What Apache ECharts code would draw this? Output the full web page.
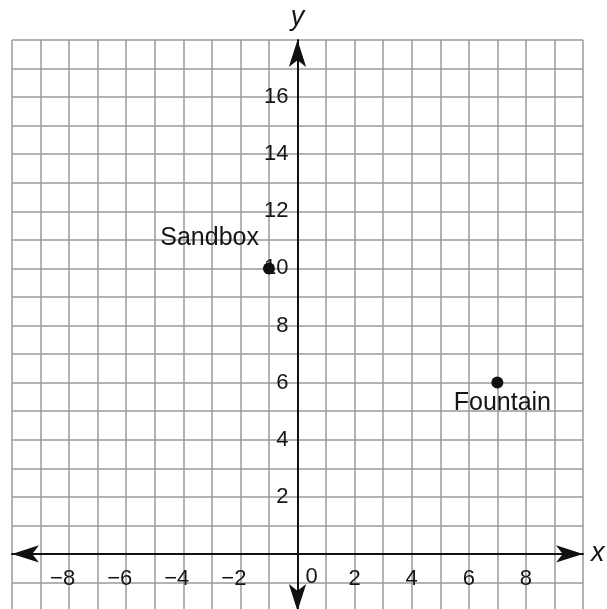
<!DOCTYPE html>
<html>
<head>
<meta charset="utf-8">
<script src="https://cdn.jsdelivr.net/npm/echarts@6/dist/echarts.min.js"></script>
<style>
html,body{margin:0;padding:0;background:#fff;}
#c{width:607px;height:609px;}
</style>
</head>
<body>
<div id="c"></div>
<script>
var xRange = [-10, 10];
var yRange = [-2, 18];
var xTickLabels = [-8, -6, -4, -2, 0, 2, 4, 6, 8];
var yTickLabels = [2, 4, 6, 8, 10, 12, 14, 16];
var pointNames = ['Sandbox', 'Fountain'];
var pointX = [-1, 7];
var pointY = [10, 6];

var FONT = 'Liberation Sans, Arial, sans-serif';
var TXT = '#151515';
var chart = echarts.init(document.getElementById('c'));

var G = { left: 12, right: 24, top: 40, bottom: -2 };
var W = 607 - G.left - G.right, H = 609 - G.top - G.bottom;
// offsets to put the axes through the origin (axis labels follow)
var xOff = -H * (0 - yRange[0]) / (yRange[1] - yRange[0]);
var yOff = -W * (0 - xRange[0]) / (xRange[1] - xRange[0]);

chart.setOption({
  animation: false,
  backgroundColor: '#fff',
  grid: { left: G.left, right: G.right, top: G.top, bottom: G.bottom, containLabel: false, outerBoundsMode: 'none' },
  xAxis: {
    type: 'value', min: xRange[0], max: xRange[1], interval: 1,
    position: 'bottom', offset: xOff,
    name: 'x', nameLocation: 'end', nameGap: 8,
    nameTextStyle: { fontFamily: FONT, fontStyle: 'italic', fontSize: 27, color: TXT, verticalAlign: 'middle', align: 'left' },
    axisLine: { onZero: false, lineStyle: { color: '#111', width: 2 }, symbol: ['arrow', 'arrow'], symbolSize: [13, 27] },
    axisTick: { show: false },
    splitLine: { show: true, lineStyle: { color: '#9a9a9a', width: 1.5 } },
    axisLabel: {
      margin: 14, fontFamily: FONT, fontSize: 22, color: TXT,
      formatter: function (v) {
        if (xTickLabels.indexOf(v) < 0) return '';
        if (v === 0) return '{zero|0}';
        if (v < 0) return '{neg|\u2212' + Math.abs(v) + '}';
        return '{pos|' + v + '}';
      },
      rich: {
        neg: { fontFamily: FONT, fontSize: 22, color: TXT, lineHeight: 22, padding: [0, 13, 0, 0] },
        pos: { fontFamily: FONT, fontSize: 22, color: TXT, lineHeight: 22 },
        zero: { fontFamily: FONT, fontSize: 22, color: TXT, lineHeight: 22, padding: [0, 0, 3, 28] }
      }
    }
  },
  yAxis: {
    type: 'value', min: yRange[0], max: yRange[1], interval: 1,
    position: 'left', offset: yOff,
    name: 'y', nameLocation: 'end', nameGap: 9,
    nameTextStyle: { fontFamily: FONT, fontStyle: 'italic', fontSize: 27, color: TXT },
    axisLine: { onZero: false, lineStyle: { color: '#111', width: 2 }, symbol: ['arrow', 'arrow'], symbolSize: [13, 27] },
    axisTick: { show: false },
    splitLine: { show: true, lineStyle: { color: '#9a9a9a', width: 1.5 } },
    axisLabel: {
      margin: 9, fontFamily: FONT, fontSize: 22, color: TXT,
      formatter: function (v) { return yTickLabels.indexOf(v) >= 0 ? String(v) : ''; }
    }
  },
  series: [{
    type: 'scatter',
    symbol: 'circle',
    symbolSize: 12,
    itemStyle: { color: '#111', opacity: 1 },
    z: 5,
    label: {
      show: true,
      formatter: '{b}',
      fontFamily: FONT, fontSize: 25, color: TXT, opacity: 1
    },
    data: [
      { name: pointNames[0], value: [pointX[0], pointY[0]], label: { position: 'left', distance: 4, offset: [0, -30] } },
      { name: pointNames[1], value: [pointX[1], pointY[1]], label: { position: 'bottom', distance: 2, offset: [5, 0] } }
    ]
  }]
});
</script>
</body>
</html>
